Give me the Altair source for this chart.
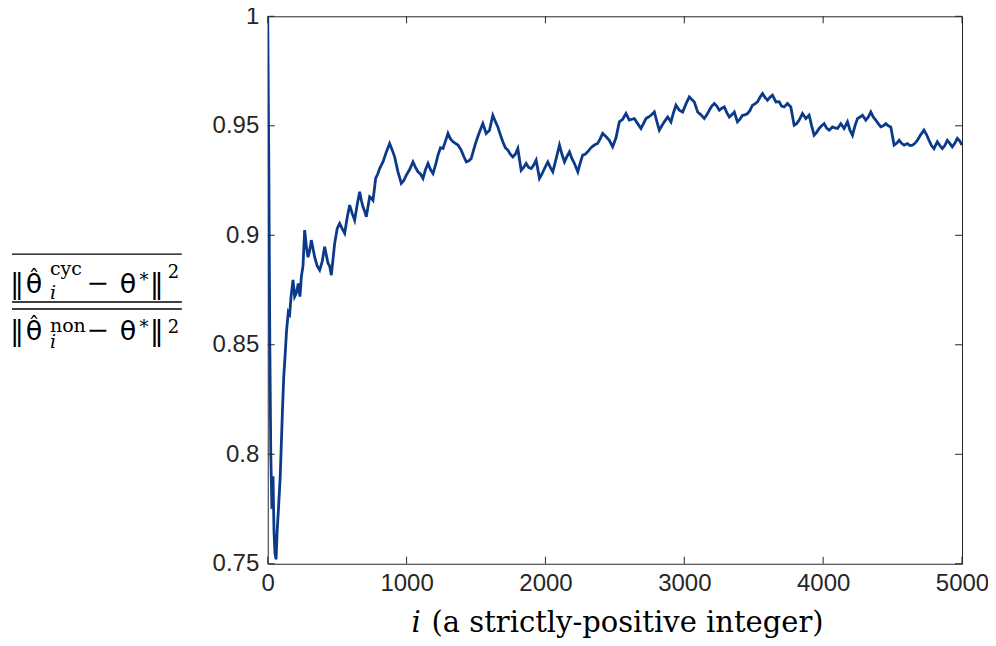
import altair as alt
import pandas as pd

# ---- data ----
i_vals = [0, 8, 15, 22, 30, 38, 45, 52, 60, 68, 79, 90, 97, 106, 115, 125, 135, 148, 158, 168, 182, 194, 206, 220, 232, 242, 254, 266, 278, 290, 302, 314, 326, 338, 356, 374, 392, 410, 422, 434, 446, 458, 470, 482, 500, 518, 536, 554, 572, 590, 608, 626, 644, 662, 674, 686, 698, 710, 722, 734, 746, 758, 768, 777, 792, 806, 818, 830, 854, 878, 896, 914, 938, 962, 980, 998, 1022, 1046, 1064, 1082, 1100, 1118, 1136, 1154, 1172, 1190, 1208, 1226, 1244, 1262, 1280, 1298, 1316, 1334, 1352, 1370, 1393, 1412, 1430, 1448, 1465, 1489, 1507, 1525, 1549, 1573, 1597, 1621, 1639, 1657, 1675, 1693, 1711, 1729, 1747, 1765, 1783, 1801, 1825, 1843, 1861, 1879, 1897, 1915, 1933, 1957, 1975, 1993, 2017, 2035, 2053, 2077, 2101, 2119, 2137, 2155, 2173, 2191, 2209, 2233, 2250, 2268, 2286, 2304, 2328, 2352, 2376, 2394, 2412, 2437, 2460, 2484, 2508, 2532, 2556, 2580, 2604, 2622, 2640, 2664, 2688, 2706, 2724, 2742, 2760, 2784, 2802, 2820, 2838, 2856, 2880, 2904, 2922, 2940, 2964, 2988, 3012, 3036, 3054, 3072, 3096, 3120, 3144, 3162, 3180, 3198, 3216, 3234, 3252, 3270, 3288, 3306, 3324, 3342, 3360, 3383, 3401, 3419, 3437, 3455, 3473, 3491, 3509, 3527, 3545, 3563, 3581, 3599, 3617, 3635, 3660, 3683, 3701, 3719, 3743, 3767, 3791, 3809, 3827, 3851, 3875, 3899, 3917, 3935, 3953, 3971, 3989, 4007, 4025, 4043, 4067, 4085, 4103, 4127, 4151, 4175, 4193, 4211, 4229, 4247, 4265, 4283, 4307, 4325, 4343, 4361, 4379, 4397, 4415, 4433, 4451, 4469, 4487, 4511, 4529, 4547, 4565, 4583, 4607, 4625, 4643, 4661, 4679, 4703, 4726, 4744, 4762, 4780, 4798, 4822, 4840, 4858, 4876, 4894, 4912, 4930, 4948, 4966, 4984, 5000]
ratio_vals = [1.0, 0.93, 0.85, 0.80, 0.775, 0.79, 0.765, 0.755, 0.752, 0.765, 0.777, 0.79, 0.803, 0.82, 0.835, 0.845, 0.856, 0.865, 0.864, 0.872, 0.8796, 0.872, 0.8736, 0.878, 0.872, 0.881, 0.886, 0.9024, 0.895, 0.890, 0.893, 0.8978, 0.894, 0.890, 0.886, 0.8841, 0.888, 0.8948, 0.891, 0.8872, 0.886, 0.8818, 0.889, 0.8963, 0.903, 0.9054, 0.903, 0.9009, 0.908, 0.9138, 0.910, 0.9069, 0.914, 0.9199, 0.916, 0.913, 0.911, 0.9084, 0.913, 0.9176, 0.917, 0.916, 0.921, 0.926, 0.928, 0.9305, 0.932, 0.9335, 0.938, 0.9419, 0.939, 0.9358, 0.929, 0.9237, 0.925, 0.9275, 0.930, 0.9335, 0.931, 0.929, 0.928, 0.926, 0.930, 0.9328, 0.930, 0.9282, 0.932, 0.9366, 0.940, 0.9396, 0.943, 0.9465, 0.944, 0.9427, 0.942, 0.9412, 0.9389, 0.936, 0.9335, 0.934, 0.935, 0.9404, 0.944, 0.9472, 0.951, 0.9465, 0.948, 0.9548, 0.952, 0.9495, 0.946, 0.9427, 0.940, 0.9389, 0.937, 0.9358, 0.937, 0.9396, 0.9297, 0.931, 0.9328, 0.931, 0.9305, 0.932, 0.9343, 0.926, 0.928, 0.9305, 0.9335, 0.931, 0.929, 0.935, 0.9412, 0.937, 0.9335, 0.936, 0.9381, 0.935, 0.9328, 0.929, 0.933, 0.9366, 0.937, 0.9381, 0.940, 0.9412, 0.9419, 0.944, 0.9465, 0.945, 0.9434, 0.9404, 0.9445, 0.9518, 0.953, 0.9556, 0.9526, 0.953, 0.9533, 0.951, 0.9488, 0.951, 0.9533, 0.954, 0.9548, 0.9563, 0.952, 0.948, 0.950, 0.9518, 0.954, 0.9518, 0.956, 0.9594, 0.9571, 0.9563, 0.960, 0.9632, 0.962, 0.9609, 0.9563, 0.955, 0.9533, 0.955, 0.9571, 0.959, 0.9602, 0.959, 0.9571, 0.958, 0.9586, 0.956, 0.954, 0.955, 0.9563, 0.9518, 0.953, 0.9548, 0.955, 0.9556, 0.957, 0.9594, 0.960, 0.9609, 0.963, 0.9647, 0.963, 0.9617, 0.963, 0.964, 0.9609, 0.961, 0.959, 0.9586, 0.9602, 0.9586, 0.9503, 0.951, 0.9526, 0.9556, 0.9533, 0.9548, 0.950, 0.9457, 0.947, 0.9488, 0.950, 0.951, 0.949, 0.948, 0.9495, 0.949, 0.9488, 0.951, 0.9488, 0.9518, 0.948, 0.9457, 0.950, 0.9533, 0.954, 0.9548, 0.9526, 0.954, 0.9563, 0.954, 0.9526, 0.951, 0.9495, 0.950, 0.951, 0.950, 0.9495, 0.9412, 0.942, 0.9434, 0.942, 0.9412, 0.9419, 0.941, 0.9412, 0.942, 0.9434, 0.946, 0.948, 0.946, 0.9434, 0.941, 0.9396, 0.9427, 0.941, 0.9396, 0.941, 0.9434, 0.942, 0.9404, 0.942, 0.9442, 0.943, 0.9412]

x_ticks = [0, 1000, 2000, 3000, 4000, 5000]
y_ticks = [0.75, 0.8, 0.85, 0.9, 0.95, 1.0]
x_title_var = "i"
x_title_rest = "(a strictly-positive integer)"

W, H = 695, 548
LINE_COLOR = "#0b3a8a"
AX_COLOR = "#262626"
TICK_FONT = "Liberation Sans"
MATH_FONT = "DejaVu Serif"

df = pd.DataFrame({"i": i_vals, "ratio": ratio_vals})
xt = pd.DataFrame({"i": x_ticks})
yt = pd.DataFrame({"ratio": y_ticks})

xscale = alt.Scale(domain=[0, 5000], nice=False, zero=False)
yscale = alt.Scale(domain=[0.75, 1.0], nice=False, zero=False)

x_axis = alt.Axis(values=x_ticks, format="d", ticks=False, domain=False, grid=False,
                  labelFont=TICK_FONT, labelFontSize=24, labelColor=AX_COLOR,
                  labelPadding=8, labelFlush=False)
y_axis = alt.Axis(values=y_ticks, format="~g", ticks=False, domain=False, grid=False,
                  labelFont=TICK_FONT, labelFontSize=24, labelColor=AX_COLOR,
                  labelPadding=9, labelFlush=False)
X = alt.X("i:Q", scale=xscale, title=None, axis=x_axis)
Y = alt.Y("ratio:Q", scale=yscale, title=None, axis=y_axis)

line = alt.Chart(df).mark_line(color=LINE_COLOR, strokeWidth=2.8, clip=True).encode(x=X, y=Y)

TL = 7
tick_kw = dict(color=AX_COLOR, strokeWidth=1)
xb = alt.Chart(xt).mark_rule(**tick_kw).encode(x=X, y=alt.value(H), y2=alt.value(H - TL))
xtop = alt.Chart(xt).mark_rule(**tick_kw).encode(x=X, y=alt.value(0), y2=alt.value(TL))
yl = alt.Chart(yt).mark_rule(**tick_kw).encode(y=Y, x=alt.value(0), x2=alt.value(TL))
yr = alt.Chart(yt).mark_rule(**tick_kw).encode(y=Y, x=alt.value(W - TL), x2=alt.value(W))

OX, OY = 268, 16  # plot origin in page pixels, used for annotation placement


def txt(s, px, py, size, align="left", style="normal", font=MATH_FONT):
    return alt.Chart(pd.DataFrame({"t": [s]})).mark_text(
        text=s, font=font, fontSize=size, fontStyle=style, align=align,
        baseline="alphabetic", color="black").encode(
        x=alt.value(px - OX), y=alt.value(py - OY))


def hline(x1, x2, py, w=1.3):
    return alt.Chart(pd.DataFrame({"a": [0]})).mark_rule(color="black", strokeWidth=w).encode(
        x=alt.value(x1 - OX), x2=alt.value(x2 - OX), y=alt.value(py - OY))


ann = []
# x-axis title
ann.append(txt(x_title_var, 412, 632, 29, style="italic"))
ann.append(txt(x_title_rest, 432, 632, 29))

# y-axis label: fraction
for base, sup, supb, subb, twob in [(293, "cyc", 275, 299, 278), (340, "non", 332, 348, 333)]:
    ann.append(txt("\u2016", 17, base, 28, align="center"))
    ann.append(txt("\u03b8", 34, base, 27, align="center", font="DejaVu Sans"))
    ann.append(txt("\u02c6", 34, base - 7, 22, align="center"))
    ann.append(txt(sup, 50, supb, 19))
    ann.append(txt("i", 50, subb, 19, style="italic"))
    ann.append(txt("\u2212", 98, base - 1, 27, align="center"))
    ann.append(txt("\u03b8", 128, base, 27, align="center", font="DejaVu Sans"))
    ann.append(txt("*", 144, base - 7, 18, align="center"))
    ann.append(txt("\u2016", 157, base, 28, align="center"))
    ann.append(txt("2", 168, twob, 18))
ann.append(hline(12, 182, 254))
ann.append(hline(12, 182, 302))
ann.append(hline(12, 182, 309))

chart = alt.layer(line, xb, xtop, yl, yr, *ann).properties(
    width=W, height=H,
    autosize=alt.AutoSizeParams(type="none"),
    padding={"left": 260, "top": 8, "right": 26, "bottom": 74},
).configure_view(stroke=AX_COLOR, strokeWidth=1)

chart.save("out.html", embed_options={"renderer": "svg", "actions": False})
